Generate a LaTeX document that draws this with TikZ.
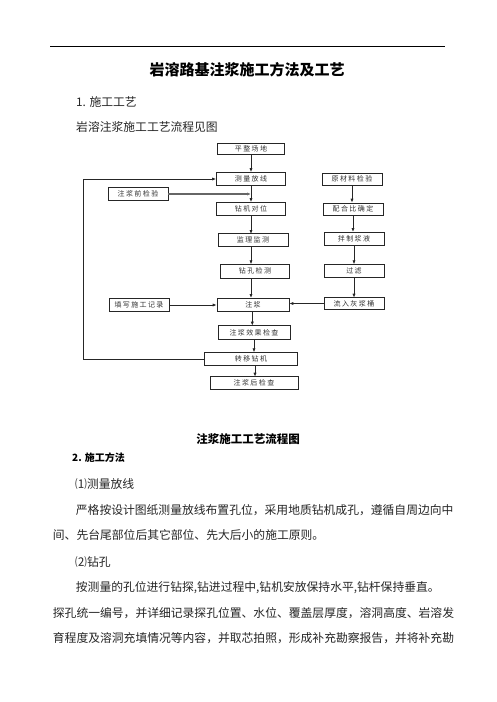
\documentclass[tikz,border=0pt]{standalone}
\usepackage{fontspec}
\setmainfont{Noto Sans CJK SC}
\newfontfamily\boxfont{Noto Sans CJK SC}[LetterSpace=20]
\usetikzlibrary{arrows.meta}
\begin{document}
\begin{tikzpicture}[x=1pt,y=-1pt,
  fbox/.style={draw=black!85,line width=0.7pt,inner sep=0pt,minimum height=13pt,
    font=\boxfont\fontsize{7}{8}\selectfont,text=black!80},
  arr/.style={draw=black!85,line width=0.8pt,-{Latex[length=4pt,width=3.2pt]}},
  ln/.style={draw=black!85,line width=0.8pt},
  body/.style={anchor=west,inner sep=0pt,font=\fontsize{11.8}{14}\selectfont,text=black!85}]
\useasboundingbox (0,0) rectangle (496,702);
\fill[white] (0,0) rectangle (496,702);
% header rule and title
\coordinate (r1) at (50,46); \coordinate (r2) at (445,46);
\draw[line width=0.8pt] (r1) -- (r2);
\node[inner sep=0pt,font=\bfseries\fontsize{15}{17}\selectfont] (title) at (247,70) {岩溶路基注浆施工方法及工艺};
\node[body] (s1) at (76,102) {1. 施工工艺};
\node[body] (s1b) at (76,127) {岩溶注浆施工工艺流程见图};
% boxes
\node[fbox,minimum width=67pt,minimum height=11pt] (pz) at (251,149) {平整场地};
\node[fbox,minimum width=69pt] (cl) at (251,179) {测量放线};
\node[fbox,minimum width=60pt,minimum height=12pt] (ycl) at (352,179) {原材料检验};
\node[fbox,minimum width=60pt] (zqj) at (138,194) {注浆前检验};
\node[fbox,minimum width=69pt] (zjdw) at (251,209) {钻机对位};
\node[fbox,minimum width=60pt,minimum height=12pt] (phb) at (353,209) {配合比确定};
\node[fbox,minimum width=70pt] (jljc) at (253,240) {监理监测};
\node[fbox,minimum width=60pt] (bz) at (354,239) {拌制浆液};
\node[fbox,minimum width=69pt,minimum height=14pt] (zkjc) at (255,271) {钻孔检测};
\node[fbox,minimum width=60pt] (gl) at (354,271) {过滤};
\node[fbox,minimum width=60pt,minimum height=13.5pt] (txjl) at (139,305) {填写施工记录};
\node[fbox,minimum width=72pt,minimum height=13.5pt] (zj) at (253,305) {注浆};
\node[fbox,minimum width=60pt,minimum height=12pt] (lr) at (354,303.5) {流入灰浆桶};
\node[fbox,minimum width=72pt,minimum height=13.5pt] (zjxg) at (254,332.5) {注浆效果检查};
\node[fbox,minimum width=93pt] (zyzj) at (251,359) {转移钻机};
\node[fbox,minimum width=88pt,minimum height=12.7pt] (zjh) at (254,383) {注浆后检查};
% main column
\draw[arr] (pz.south) -- (pz.south |- cl.north);
\draw[arr] (cl.south) -- (cl.south |- zjdw.north);
\coordinate (j1) at (251,194);
\draw[arr,draw=black!60,line width=1.2pt] (zqj.east) -- (j1);
\draw[arr] (251,216) -- (251,234);
\draw[arr] (251,246.7) -- (251,264.3);
\draw[arr] (251,278.3) -- (251,298);
\draw[arr] (252.3,311.7) -- (252.3,325.7);
\draw[arr] (254,339.3) -- (254,352.3);
\draw[arr] (255,365.7) -- (255,376.7);
% right column
\draw[arr] (ycl.south) -- (ycl.south |- phb.north);
\draw[arr] (353,215) -- (353,232);
\draw[arr] (354,245) -- (354,264.3);
\draw[arr] (354,277.3) -- (354,297.7);
\draw[arr] (lr.west) -- (lr.west -| zj.east);
\draw[arr] (txjl.east) -- (txjl.east -| zj.west);
% loop back
\coordinate (lb1) at (83.3,359);
\coordinate (lb2) at (83.3,179);
\draw[ln] (zyzj.west) -- (lb1) -- (lb2);
\draw[arr] (lb2) -- (cl.west);
% caption and body text
\node[inner sep=0pt,font=\bfseries\fontsize{11.5}{14}\selectfont] (cap) at (248,439) {注浆施工工艺流程图};
\node[anchor=west,inner sep=0pt,font=\bfseries\fontsize{10}{12}\selectfont] (s2) at (72,458) {2. 施工方法};
\node[body] (p1) at (75,484) {⑴测量放线};
\node[body] (l1) at (75.7,510) {严格按设计图纸测量放线布置孔位，采用地质钻机成孔，遵循自周边向中};
\node[body] (l2) at (52.7,535) {间、先台尾部位后其它部位、先大后小的施工原则。};
\node[body] (p2) at (75,561.7) {⑵钻孔};
\node[body] (l3) at (75.7,588) {按测量的孔位进行钻探,钻进过程中,钻机安放保持水平,钻杆保持垂直。};
\node[body] (l4) at (52.7,613) {探孔统一编号，并详细记录探孔位置、水位、覆盖层厚度，溶洞高度、岩溶发};
\node[body] (l5) at (52.7,638) {育程度及溶洞充填情况等内容，并取芯拍照，形成补充勘察报告，并将补充勘};
\end{tikzpicture}
\end{document}
